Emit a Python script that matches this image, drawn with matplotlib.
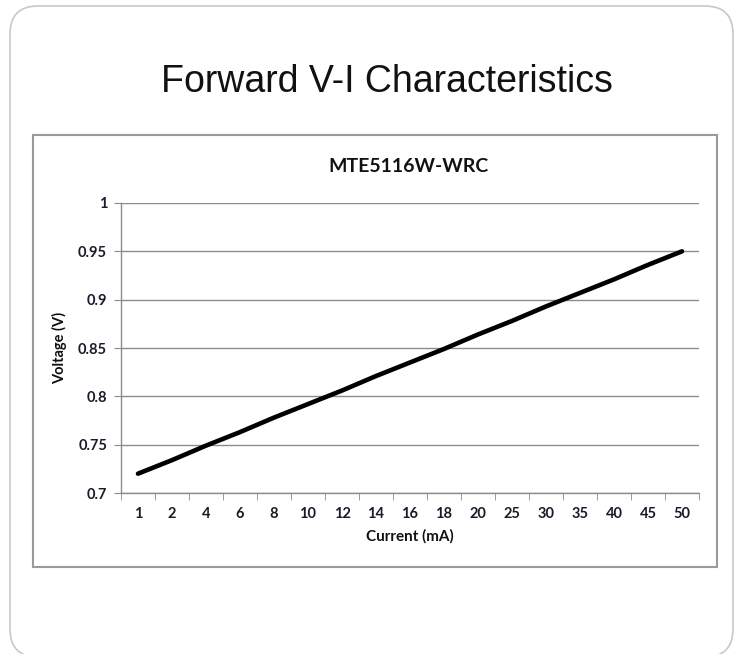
import matplotlib.pyplot as plt
from matplotlib.patches import Rectangle, FancyBboxPatch
from matplotlib.transforms import IdentityTransform

# Data
current_ma = ["1", "2", "4", "6", "8", "10", "12", "14", "16", "18",
              "20", "25", "30", "35", "40", "45", "50"]
voltage_v = [0.720, 0.734, 0.749, 0.763, 0.778, 0.792, 0.806, 0.821, 0.835,
             0.849, 0.864, 0.878, 0.893, 0.907, 0.921, 0.936, 0.950]
y_ticks = [0.7, 0.75, 0.8, 0.85, 0.9, 0.95, 1.0]
y_tick_labels = ["0.7", "0.75", "0.8", "0.85", "0.9", "0.95", "1"]

W, H = 740, 654
fig = plt.figure(figsize=(W / 100, H / 100), dpi=100)

# outer rounded slide frame (pixel coords)
frame = FancyBboxPatch((10, H - 657), 723, 651,
                       boxstyle="round,pad=0,rounding_size=28",
                       transform=IdentityTransform(), facecolor="white",
                       edgecolor="#c8c8c8", linewidth=1.2, zorder=0)
fig.patches.append(frame)

# inner chart box
box = Rectangle((33 / W, 1 - 567 / H), 684 / W, 432 / H,
                transform=fig.transFigure, facecolor="white",
                edgecolor="#9a9a9a", linewidth=1.5, zorder=1)
fig.patches.append(box)

fig.text(387 / W, 1 - 82 / H, "Forward V-I Characteristics",
         family="Liberation Sans", fontsize=27, ha="center", va="center",
         color="#111111")
fig.text(408 / W, 1 - 166 / H, "MTE5116W-WRC", family="Lato",
         fontweight="bold", fontsize=14, ha="center", va="center",
         color="#111111")

ax = fig.add_axes([121 / W, 1 - 493 / H, 578 / W, 290 / H])
ax.set_zorder(2)
ax.patch.set_alpha(0)

x = list(range(len(current_ma)))
ax.plot(x, voltage_v, color="black", linewidth=3.3, solid_capstyle="round",
        zorder=3)

ax.set_xlim(-0.5, len(current_ma) - 0.5)
ax.set_ylim(0.7, 1.0)
ax.set_yticks(y_ticks)
ax.set_yticklabels(y_tick_labels)
ax.set_xticks(x)
ax.set_xticklabels(current_ma)
ax.set_xticks([i - 0.5 for i in range(len(current_ma) + 1)], minor=True)

ax.grid(axis="y", color="#8c8c8c", linewidth=1)
ax.set_axisbelow(True)
for s in ["top", "right"]:
    ax.spines[s].set_visible(False)
for s in ["left", "bottom"]:
    ax.spines[s].set_color("#8c8c8c")
    ax.spines[s].set_linewidth(1)

ax.tick_params(axis="y", length=5, color="#8c8c8c", labelsize=10.5,
               labelcolor="#1a1a2a", pad=5)
ax.tick_params(axis="x", which="major", length=0, labelsize=10.5,
               labelcolor="#1a1a2a", pad=10)
ax.tick_params(axis="x", which="minor", length=5, color="#8c8c8c")
for lbl in ax.get_xticklabels() + ax.get_yticklabels():
    lbl.set_family("Lato")
    lbl.set_fontweight("bold")

ax.set_xlabel("Current (mA)", family="Lato", fontweight="bold", fontsize=11,
              color="#111111", labelpad=6)
ax.set_ylabel("Voltage (V)", family="Lato", fontweight="bold", fontsize=10.5,
              color="#111111", labelpad=8)

fig.savefig("out.png", dpi=100)
